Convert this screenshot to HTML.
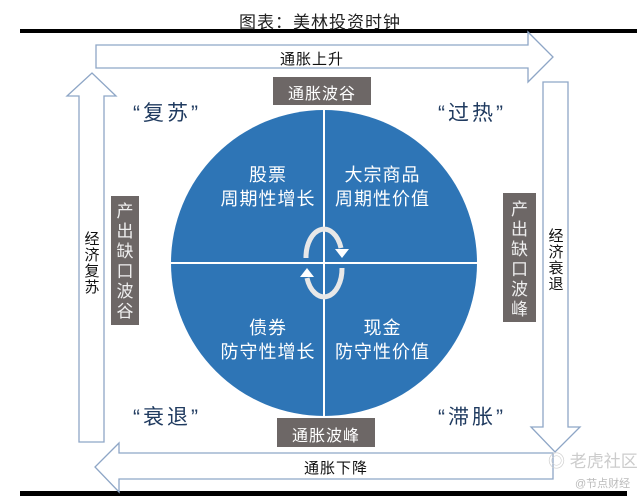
<!DOCTYPE html>
<html><head><meta charset="utf-8"><style>
html,body{margin:0;padding:0;background:#fff;}
body{width:640px;height:497px;position:relative;overflow:hidden;font-family:"Liberation Sans","Noto Sans CJK SC",sans-serif;}
.t{position:absolute;white-space:nowrap;}
</style></head><body>
<svg width="640" height="497" style="position:absolute;left:0;top:0" xmlns="http://www.w3.org/2000/svg">
<rect x="20" y="29" width="617" height="4" fill="#000"/>
<rect x="20" y="491" width="607" height="5" fill="#000"/>
<g fill="#fff" stroke="#8ea6c6" stroke-width="1.3">
<polygon points="96,45 528,45 528,32 553,57 528,82 528,68 96,68"/>
<polygon points="79,442 79,96 67,96 92,73 116,96 104,96 104,442"/>
<polygon points="543,82 568,82 568,427 580,427 555,452 531,427 543,427"/>
<polygon points="553,453 119,453 119,443 95,467 119,492 119,479 553,479"/>
</g>
<circle cx="324" cy="263" r="153" fill="#2e75b6"/>
<line x1="324" y1="105" x2="324" y2="418" stroke="#fff" stroke-width="2"/>
<line x1="170" y1="263" x2="478" y2="263" stroke="#fff" stroke-width="2"/>
<rect x="273" y="77" width="98" height="28" fill="#6d6766"/>
<rect x="277" y="418" width="98" height="29" fill="#6d6766"/>
<rect x="111" y="196" width="28" height="129" fill="#6d6766"/>
<rect x="503" y="193" width="33" height="129" fill="#6d6766"/>
<g fill="none" stroke="#e8e8e8" stroke-width="5">
<path d="M306,258 A18,28 0 0 1 341,248"/>
<path d="M342,268 A18,28 0 0 1 307,278"/>
</g>
<polygon points="335,249 349,249 342,258" fill="#fff"/>
<polygon points="300,277 314,277 307,268" fill="#fff"/>
</svg>
<div class="t" style="left:0;width:640px;top:8px;text-align:center;font-size:17px;color:#222;letter-spacing:1px">图表：美林投资时钟</div>
<div class="t" style="left:96px;width:432px;top:48px;text-align:center;font-size:15px;color:#111;letter-spacing:1px">通胀上升</div>
<div class="t" style="left:119px;width:434px;top:457px;text-align:center;font-size:15px;color:#111;letter-spacing:1px">通胀下降</div>
<div class="t" style="left:273px;width:98px;top:80px;text-align:center;font-size:16px;color:#fff;letter-spacing:1px">通胀波谷</div>
<div class="t" style="left:277px;width:98px;top:422px;text-align:center;font-size:16px;color:#fff;letter-spacing:1px">通胀波峰</div>
<div class="t" style="left:133px;top:97px;font-size:21px;color:#1f3a5f;letter-spacing:3px">“复苏”</div>
<div class="t" style="left:438px;top:97px;font-size:21px;color:#1f3a5f;letter-spacing:3px">“过热”</div>
<div class="t" style="left:133px;top:401px;font-size:21px;color:#1f3a5f;letter-spacing:3px">“衰退”</div>
<div class="t" style="left:438px;top:401px;font-size:21px;color:#1f3a5f;letter-spacing:3px">“滞胀”</div>
<div class="t" style="left:168px;width:200px;top:163px;text-align:center;font-size:18px;line-height:24px;color:#fff;letter-spacing:1px">股票<br>周期性增长</div>
<div class="t" style="left:300px;width:165px;top:163px;text-align:center;font-size:18px;line-height:24px;color:#fff;letter-spacing:1px">大宗商品<br>周期性价值</div>
<div class="t" style="left:168px;width:200px;top:316px;text-align:center;font-size:18px;line-height:24px;color:#fff;letter-spacing:1px">债券<br>防守性增长</div>
<div class="t" style="left:300px;width:165px;top:316px;text-align:center;font-size:18px;line-height:24px;color:#fff;letter-spacing:1px">现金<br>防守性价值</div>
<div class="t" style="left:111px;width:28px;top:202px;text-align:center;font-size:17px;line-height:20px;color:#eee;white-space:normal">产出缺口波谷</div>
<div class="t" style="left:503px;width:33px;top:200px;text-align:center;font-size:17px;line-height:20px;color:#eee;white-space:normal">产出缺口波峰</div>
<div class="t" style="left:84px;width:16px;top:232px;text-align:center;font-size:15px;line-height:16px;color:#111;white-space:normal">经济复苏</div>
<div class="t" style="left:548px;width:16px;top:229px;text-align:center;font-size:15px;line-height:16px;color:#111;white-space:normal">经济衰退</div>
<div class="t" style="left:548px;top:447px;font-size:17px;color:#ccc">◎ 老虎社区</div>
<div class="t" style="left:575px;top:475px;font-size:11px;color:#bbb">@节点财经</div>
</body></html>
